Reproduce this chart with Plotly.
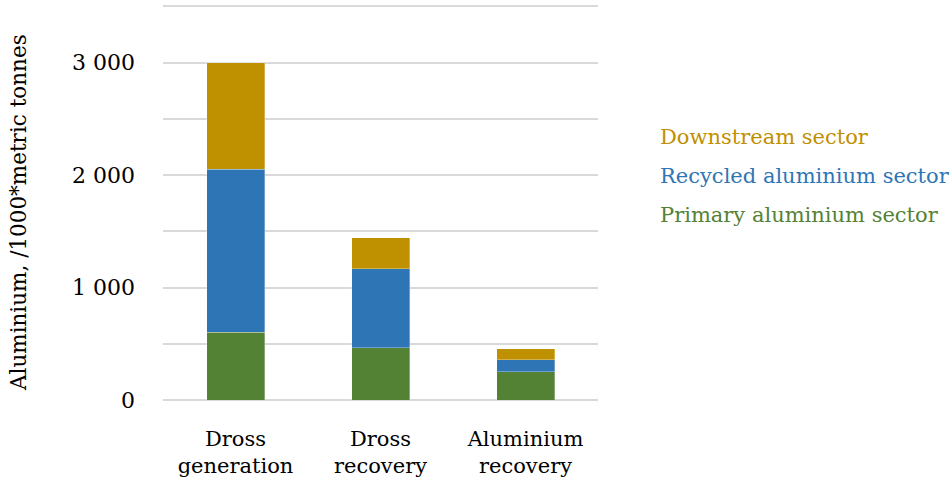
import plotly.graph_objects as go

# Aluminium flows per stage, in thousands of metric tonnes
stages = ["Dross<br>generation", "Dross<br>recovery", "Aluminium<br>recovery"]
primary = [603, 465, 253]
recycled = [1447, 703, 107]
downstream = [950, 276, 95]

sector_names = ["Primary aluminium sector", "Recycled aluminium sector", "Downstream sector"]
sector_colors = ["#548235", "#2E75B6", "#BF9000"]
y_ticks = [0, 1000, 2000, 3000]

FONT = "DejaVu Serif"
Y_MAX = 3520
TOP, BOTTOM = 4, 85
PLOT_H = 485 - TOP - BOTTOM
LEFT, RIGHT = 163, 598


def py_to_paper(py):
    """Convert a pixel row of the page into a paper-y fraction."""
    return (485 - BOTTOM - py) / PLOT_H


fig = go.Figure()
for name, vals, color in zip(sector_names, [primary, recycled, downstream], sector_colors):
    fig.add_trace(go.Bar(
        x=stages, y=vals, name=name,
        marker=dict(color=color, line=dict(color="rgba(255,255,255,0.5)", width=0.6)),
        width=0.4,
    ))

# Text-only legend, coloured like each series (top to bottom: downstream, recycled, primary)
legend_y = [137, 176, 215]
for name, color, py in zip(sector_names[::-1], sector_colors[::-1], legend_y):
    fig.add_annotation(
        text=name, xref="paper", yref="paper",
        x=(658 - LEFT) / (RIGHT - LEFT), y=py_to_paper(py),
        xanchor="left", yanchor="middle", showarrow=False,
        font=dict(family=FONT, size=21, color=color),
    )

# Vertical axis title
fig.add_annotation(
    text="Aluminium, /1000*metric tonnes", xref="paper", yref="paper",
    x=(18 - LEFT) / (RIGHT - LEFT), y=py_to_paper(213),
    xanchor="center", yanchor="middle", textangle=-90, showarrow=False,
    font=dict(family=FONT, size=21.5, color="#000000"),
)

fig.update_layout(
    barmode="stack",
    showlegend=False,
    width=951, height=485,
    margin=dict(l=LEFT, r=951 - RIGHT, t=TOP, b=BOTTOM),
    paper_bgcolor="white", plot_bgcolor="white",
    separators=". ",
    font=dict(family=FONT, size=21, color="#000000"),
)
fig.update_xaxes(
    showgrid=False, showline=False, ticks="", ticklabelstandoff=24,
    tickfont=dict(family=FONT, size=21, color="#000000"),
)
fig.update_yaxes(
    range=[0, Y_MAX], tickvals=y_ticks, tickformat=",d",
    showgrid=True, gridcolor="#D9D9D9", gridwidth=2,
    zeroline=True, zerolinecolor="#D9D9D9", zerolinewidth=2,
    showline=False, ticks="", ticklabelstandoff=27,
    tickfont=dict(family=FONT, size=22, color="#000000"),
    minor=dict(tick0=0, dtick=500, showgrid=True, gridcolor="#D9D9D9", gridwidth=2),
)

fig.write_html("out.html")
